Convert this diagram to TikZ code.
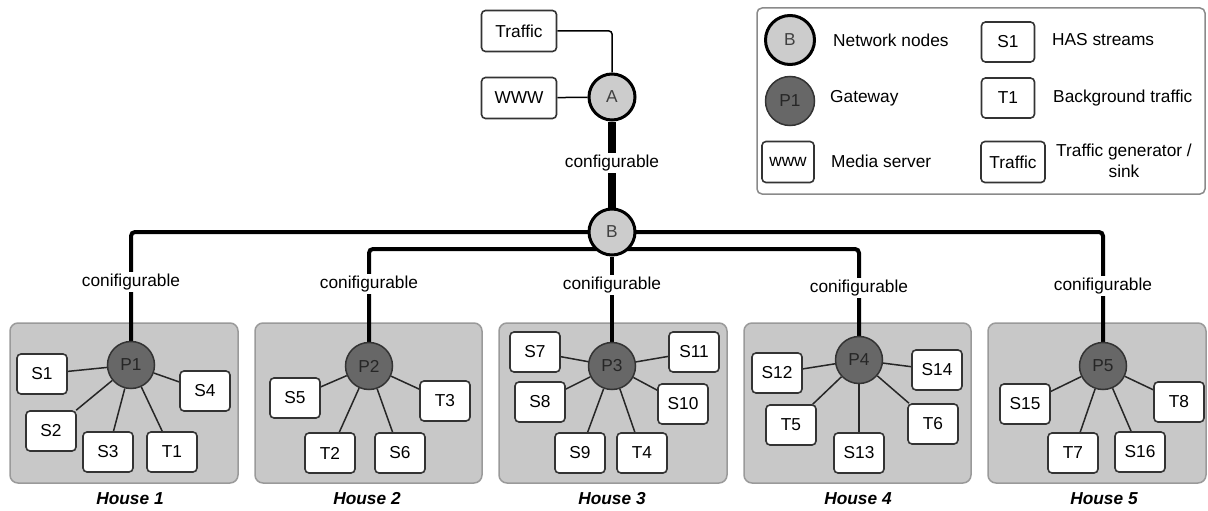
\documentclass[tikz,border=0pt]{standalone}
\usepackage{fontspec}
\setmainfont{Liberation Sans}
\usetikzlibrary{calc}
\pgfdeclarelayer{houses}
\pgfdeclarelayer{links}
\pgfsetlayers{houses,links,main}
\definecolor{housefill}{HTML}{C8C8C8}
\definecolor{houseline}{HTML}{9A9A9A}
\definecolor{netfill}{HTML}{CCCCCC}
\definecolor{gwfill}{HTML}{676767}
\definecolor{boxline}{HTML}{333333}
\definecolor{legline}{HTML}{8A8A8A}
\begin{document}
\begin{tikzpicture}[x=1pt,y=-1pt,
  font=\fontsize{17.3}{21}\selectfont,
  netnode/.style={circle, draw=black, line width=3pt, fill=netfill, minimum size=46pt, inner sep=0pt, text=black!75},
  gwnode/.style={circle, draw=boxline, line width=1.5pt, fill=gwfill, minimum size=47pt, inner sep=0pt, text=black!85},
  endbox/.style={draw=boxline, fill=white, line width=1.6pt, rounded corners=4pt, minimum width=50pt, minimum height=40pt, inner sep=0pt},
  housebox/.style={draw=houseline, fill=housefill, line width=1.5pt, rounded corners=8pt, minimum width=228pt, minimum height=160pt, inner sep=0pt},
  backbone/.style={line width=4pt, rounded corners=4pt},
  thinlink/.style={line width=1.5pt, draw=black!85},
  lbl/.style={fill=white, inner sep=1.5pt},
  housename/.style={font=\fontsize{17.3}{21}\selectfont\bfseries\itshape},
  legtext/.style={anchor=west, inner sep=0pt},
]
\useasboundingbox (0,0) rectangle (1208,511);

% ---------- houses ----------
\begin{pgfonlayer}{houses}
\node[housebox] (H1) at (124,403) {};
\node[housebox, minimum width=227pt] (H2) at (368.5,403) {};
\node[housebox] (H3) at (613,403) {};
\node[housebox, minimum width=227pt] (H4) at (857.5,403) {};
\node[housebox, minimum width=218pt] (H5) at (1097,403) {};
\end{pgfonlayer}

\node[housename] (HL1) at (130,499) {House 1};
\node[housename] (HL2) at (367,499) {House 2};
\node[housename] (HL3) at (612,499) {House 3};
\node[housename] (HL4) at (858,499) {House 4};
\node[housename] (HL5) at (1104,499) {House 5};

% ---------- core ----------
\node[endbox, minimum width=75pt, minimum height=41pt] (Traffic) at (519,31) {Traffic};
\node[endbox, minimum width=75pt, minimum height=41pt] (WWW) at (519,98) {WWW};
\node[netnode] (A) at (612,97) {A};
\node[netnode] (B) at (612,232) {B};

% ---------- gateways ----------
\node[gwnode] (P1) at (131,365) {P1};
\node[gwnode] (P2) at (369,366) {P2};
\node[gwnode] (P3) at (612,366) {P3};
\node[gwnode] (P4) at (859,360) {P4};
\node[gwnode] (P5) at (1103,366) {P5};

% ---------- house 1 ----------
\node[endbox] (S1) at (42,374) {S1};
\node[endbox] (S4) at (205,391) {S4};
\node[endbox] (S2) at (51,431) {S2};
\node[endbox] (S3) at (108,452) {S3};
\node[endbox] (T1) at (172,452) {T1};
% ---------- house 2 ----------
\node[endbox] (S5) at (295,398) {S5};
\node[endbox] (T3) at (445,401) {T3};
\node[endbox] (T2) at (330,453) {T2};
\node[endbox] (S6) at (400,453) {S6};
% ---------- house 3 ----------
\node[endbox] (S7) at (535,352) {S7};
\node[endbox] (S11) at (694,352) {S11};
\node[endbox] (S8) at (540,402) {S8};
\node[endbox] (S10) at (683,404) {S10};
\node[endbox] (S9) at (580,453) {S9};
\node[endbox] (T4) at (642,453) {T4};
% ---------- house 4 ----------
\node[endbox] (S12) at (777,373) {S12};
\node[endbox] (S14) at (937,370) {S14};
\node[endbox] (T5) at (791,425) {T5};
\node[endbox] (T6) at (933,424) {T6};
\node[endbox] (S13) at (859,453) {S13};
% ---------- house 5 ----------
\node[endbox] (S15) at (1025,404) {S15};
\node[endbox] (T8) at (1179,402) {T8};
\node[endbox] (T7) at (1073,453) {T7};
\node[endbox] (S16) at (1140,452) {S16};

% ---------- links ----------
\begin{pgfonlayer}{links}
\draw[line width=1.5pt, rounded corners=3pt] (Traffic.east) -| (A);
\draw[line width=1.5pt] (WWW) -- (A);
\draw[line width=8.5pt] (A) -- (B);
\draw[backbone] (B.center) -| (P1);
\draw[backbone] ($(B.center)+(0,17)$) -| (P2);
\draw[backbone] (B) -- (P3);
\draw[backbone] ($(B.center)+(0,17)$) -| (P4);
\draw[backbone] (B.center) -| (P5);
\foreach \t in {S1,S4,S2,S3,T1} \draw[thinlink] (P1) -- (\t);
\foreach \t in {S5,T3,T2,S6} \draw[thinlink] (P2) -- (\t);
\foreach \t in {S7,S11,S8,S10,S9,T4} \draw[thinlink] (P3) -- (\t);
\foreach \t in {S12,S14,T5,T6,S13} \draw[thinlink] (P4) -- (\t);
\foreach \t in {S15,T8,T7,S16} \draw[thinlink] (P5) -- (\t);
\end{pgfonlayer}

% ---------- link labels ----------
\node[lbl] (cAB) at (612,163) {configurable};
\node[lbl] (c1) at (131,282) {conifigurable};
\node[lbl] (c2) at (369,284) {conifigurable};
\node[lbl] (c3) at (612,285) {conifigurable};
\node[lbl] (c4) at (859,288) {conifigurable};
\node[lbl] (c5) at (1103,286) {conifigurable};

% ---------- legend ----------
\node[draw=legline, line width=1.5pt, rounded corners=5pt, minimum width=448pt, minimum height=186pt, inner sep=0pt] (legend) at (981,101) {};
\node[netnode, minimum size=49pt] (lgB) at (790,40) {B};
\node[gwnode, minimum size=49pt] (lgP) at (790,101) {P1};
\node[endbox, minimum width=52pt, minimum height=41pt] (lgW) at (788,162) {www};
\node[endbox, minimum width=53pt] (lgS) at (1008,42) {S1};
\node[endbox, minimum width=53pt] (lgT) at (1008,98) {T1};
\node[endbox, minimum width=64pt, minimum height=41pt] (lgTr) at (1013,162) {Traffic};
\node[legtext] (lgBt) at (833,40) {Network nodes};
\node[legtext] (lgPt) at (830,98) {Gateway};
\node[legtext] (lgWt) at (831,161) {Media server};
\node[legtext] (lgSt) at (1052,40) {HAS streams};
\node[legtext] (lgTt) at (1053,98) {Background traffic};
\node[align=center, inner sep=0pt] (lgTrt) at (1124,161) {Traffic generator /\\sink};
\end{tikzpicture}
\end{document}
